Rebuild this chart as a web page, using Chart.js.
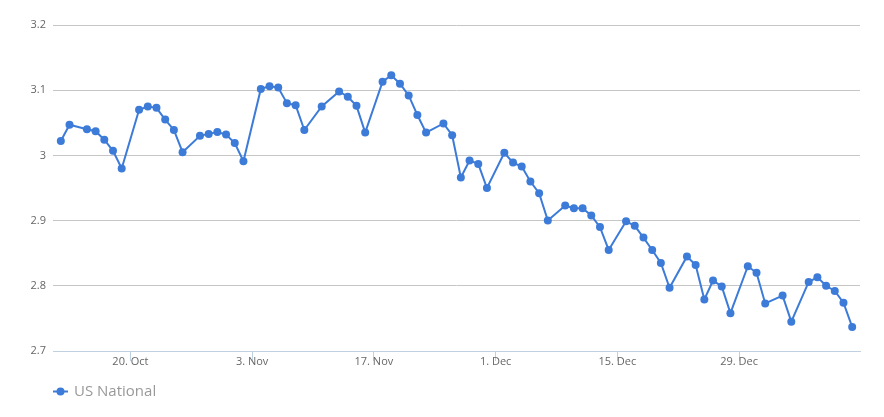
<!DOCTYPE html>
<html>
<head>
<meta charset="utf-8">
<script src="https://cdn.jsdelivr.net/npm/chart.js@4"></script>
<style>
    body { margin: 0; background: #fff; }
    #wrap { width: 884px; height: 417px; position: relative; }
</style>
</head>
<body>
<div id="wrap"><canvas id="myChart"></canvas></div>
<script>
"use strict";

// series: US National, one value per day shown
const dates = [
    "2014-10-12","2014-10-13","2014-10-15","2014-10-16","2014-10-17","2014-10-18","2014-10-19",
    "2014-10-21","2014-10-22","2014-10-23","2014-10-24","2014-10-25","2014-10-26",
    "2014-10-28","2014-10-29","2014-10-30","2014-10-31","2014-11-01","2014-11-02",
    "2014-11-04","2014-11-05","2014-11-06","2014-11-07","2014-11-08","2014-11-09",
    "2014-11-11","2014-11-13","2014-11-14","2014-11-15","2014-11-16",
    "2014-11-18","2014-11-19","2014-11-20","2014-11-21","2014-11-22","2014-11-23",
    "2014-11-25","2014-11-26","2014-11-27","2014-11-28","2014-11-29","2014-11-30",
    "2014-12-02","2014-12-03","2014-12-04","2014-12-05","2014-12-06","2014-12-07",
    "2014-12-09","2014-12-10","2014-12-11","2014-12-12","2014-12-13","2014-12-14",
    "2014-12-16","2014-12-17","2014-12-18","2014-12-19","2014-12-20","2014-12-21",
    "2014-12-23","2014-12-24","2014-12-25","2014-12-26","2014-12-27","2014-12-28",
    "2014-12-30","2014-12-31","2015-01-01","2015-01-03","2015-01-04",
    "2015-01-06","2015-01-07","2015-01-08","2015-01-09","2015-01-10","2015-01-11"
];
const usNational = [
    3.022,3.047,3.040,3.037,3.024,3.007,2.980,
    3.070,3.075,3.073,3.055,3.039,3.005,
    3.030,3.033,3.036,3.032,3.019,2.991,
    3.102,3.106,3.104,3.080,3.077,3.039,
    3.075,3.098,3.090,3.076,3.035,
    3.113,3.123,3.110,3.092,3.062,3.035,
    3.049,3.031,2.966,2.992,2.987,2.950,
    3.004,2.989,2.983,2.960,2.942,2.900,
    2.923,2.919,2.919,2.908,2.890,2.855,
    2.899,2.892,2.874,2.855,2.835,2.797,
    2.845,2.832,2.779,2.808,2.799,2.758,
    2.830,2.820,2.773,2.785,2.745,
    2.806,2.813,2.800,2.792,2.774,2.737
];
const tickDates = ["2014-10-20","2014-11-03","2014-11-17","2014-12-01","2014-12-15","2014-12-29"];
const tickLabels = ["20. Oct","3. Nov","17. Nov","1. Dec","15. Dec","29. Dec"];
const seriesName = "US National";

const startDay = Date.parse("2014-10-01");
function dayIndex(s) {
    return (Date.parse(s) - startDay) / 86400000;
}

const lineColor = "#3d7bd9";
const points = dates.map(function (d, i) {
    return { x: dayIndex(d), y: usNational[i] };
});
const tickDays = tickDates.map(dayIndex);

// highcharts-like legend under the plot
const legendPlugin = {
    id: "legendLine",
    afterDraw: function (chart) {
        let ctx = chart.ctx;
        let y = 391.5;
        ctx.save();
        ctx.strokeStyle = lineColor;
        ctx.lineWidth = 2;
        ctx.beginPath();
        ctx.moveTo(53, y);
        ctx.lineTo(68, y);
        ctx.stroke();
        ctx.fillStyle = lineColor;
        ctx.beginPath();
        ctx.arc(60.5, y, 4, 0, Math.PI * 2);
        ctx.fill();
        ctx.fillStyle = "#999";
        ctx.font = "15px 'Open Sans'";
        ctx.textBaseline = "middle";
        ctx.fillText(seriesName, 74, y);
        ctx.restore();
    }
};

let myChart = new Chart(document.getElementById("myChart"), {
    type: "line",
    data: {
        datasets: [{
            label: seriesName,
            data: points,
            borderColor: lineColor,
            backgroundColor: lineColor,
            borderWidth: 2,
            pointRadius: 4,
            pointBorderWidth: 0,
            pointHoverRadius: 5,
            tension: 0
        }]
    },
    options: {
        responsive: true,
        maintainAspectRatio: false,
        animation: false,
        layout: { padding: { top: 25, right: 24, left: 0, bottom: 0 } },
        plugins: {
            legend: { display: false },
            tooltip: { enabled: false }
        },
        scales: {
            x: {
                type: "linear",
                min: 10.1,
                max: 102.9,
                afterBuildTicks: function (scale) {
                    scale.ticks = tickDays.map(function (v) { return { value: v }; });
                },
                afterFit: function (scale) { scale.height = 66; },
                border: { display: true, color: "#c0d0e0", width: 1 },
                grid: {
                    drawOnChartArea: false,
                    drawTicks: true,
                    tickLength: 10,
                    color: "#c0d0e0"
                },
                ticks: {
                    autoSkip: false,
                    maxRotation: 0,
                    padding: -6,
                    color: "#666",
                    font: { family: "'Open Sans'", size: 11 },
                    callback: function (value, index) { return tickLabels[index]; }
                }
            },
            y: {
                min: 2.7,
                max: 3.2,
                afterFit: function (scale) { scale.width = 53; },
                border: { display: false },
                grid: { color: "#c6c6c6", drawTicks: false },
                ticks: {
                    stepSize: 0.1,
                    padding: 7,
                    color: "#666",
                    font: { family: "'Open Sans'", size: 11 },
                    callback: function (value) { return String(+value.toFixed(1)); }
                }
            }
        }
    },
    plugins: [legendPlugin]
});
</script>
</body>
</html>
